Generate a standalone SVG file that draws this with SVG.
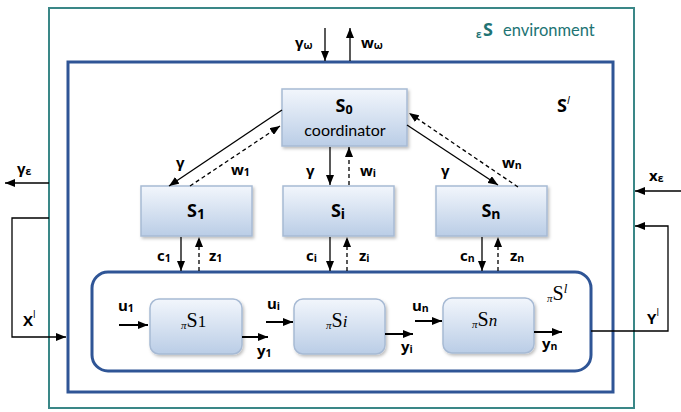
<svg xmlns="http://www.w3.org/2000/svg" width="681" height="412" viewBox="0 0 681 412">
<defs>
<linearGradient id="boxg" x1="0" y1="0" x2="0" y2="1">
<stop offset="0" stop-color="#F2F6FC"/>
<stop offset="1" stop-color="#BACDE6"/>
</linearGradient>
<filter id="sh" x="-10%" y="-10%" width="125%" height="130%">
<feDropShadow dx="1.5" dy="2" stdDeviation="1.5" flood-color="#000" flood-opacity="0.25"/>
</filter>
<marker id="ah" markerUnits="userSpaceOnUse" markerWidth="10" markerHeight="8" refX="10" refY="4" orient="auto">
<path d="M0,0 L10,4 L0,8 z" fill="#000"/>
</marker>
</defs>
<style>
.lbl{font-family:"Open Sans",Lato,"DejaVu Sans",sans-serif;font-weight:bold;font-size:15px;fill:#000}
.sub{font-size:10.5px}
.big{font-family:"Open Sans",Lato,"DejaVu Sans",sans-serif;font-weight:bold;font-size:18px;fill:#000}
.ser{font-family:"Liberation Serif","DejaVu Serif",serif;font-size:20px;fill:#000}
.box{fill:url(#boxg);stroke:#A7BAD4;stroke-width:1.5;filter:url(#sh)}
.ln{fill:none;stroke:#000;stroke-width:1.3}
.dl{fill:none;stroke:#000;stroke-width:1.3;stroke-dasharray:4,3}
.th{fill:none;stroke:#000;stroke-width:2}
</style>
<g id="environment">
<rect x="49" y="8" width="585" height="400" fill="none" stroke="#3A8787" stroke-width="2"/>
<text x="476" y="38" font-family="'Open Sans',Lato,sans-serif" font-weight="bold" font-size="10" fill="#217373">ε</text>
<text x="483" y="36" font-family="'Open Sans',Lato,sans-serif" font-weight="bold" font-size="18" fill="#217373">S</text>
<text x="503" y="36" font-family="Lato,'Open Sans',sans-serif" font-size="16.5" fill="#217373">environment</text>
</g>
<g id="Sl">
<rect x="68" y="62" width="545" height="330" fill="none" stroke="#2F5596" stroke-width="3"/>
<text x="557" y="112" class="big" font-size="17">S<tspan font-size="11" font-style="italic" font-weight="normal" dy="-8">l</tspan></text>
</g>
<g id="piSl">
<rect x="92" y="272" width="499" height="99" rx="16" fill="none" stroke="#2F5596" stroke-width="3"/>
<text x="547" y="300" class="ser"><tspan font-size="11" font-style="italic" dy="2">π</tspan><tspan dy="-2">S</tspan><tspan font-size="13" font-style="italic" dy="-7">l</tspan></text>
</g>
<g id="S0">
<rect class="box" x="282" y="89" width="125" height="57"/>
<text x="344" y="112" class="big" text-anchor="middle" font-size="16.5">S<tspan font-size="12.5" dy="1.5">0</tspan></text>
<text x="345" y="136" text-anchor="middle" font-family="Lato,'Open Sans',sans-serif" font-size="16" fill="#000">coordinator</text>
</g>
<g id="S1">
<rect class="box" x="141" y="186" width="111" height="50"/>
<text x="196" y="217" class="big" text-anchor="middle">S<tspan font-size="14" dy="2">1</tspan></text>
</g>
<g id="Si">
<rect class="box" x="283" y="186" width="111" height="50"/>
<text x="338" y="217" class="big" text-anchor="middle">S<tspan font-size="14" dy="2">i</tspan></text>
</g>
<g id="Sn">
<rect class="box" x="436" y="186" width="111" height="50"/>
<text x="491" y="217" class="big" text-anchor="middle">S<tspan font-size="14" dy="2">n</tspan></text>
</g>
<g id="piS1">
<rect class="box" x="150" y="299" width="92" height="55" rx="9"/>
<text x="181" y="327" class="ser"><tspan font-size="11" font-style="italic" dy="2">π</tspan><tspan dy="-2">S</tspan><tspan font-size="17">1</tspan></text>
</g>
<g id="piSi">
<rect class="box" x="294" y="299" width="91" height="55" rx="9"/>
<text x="326" y="327" class="ser"><tspan font-size="11" font-style="italic" dy="2">π</tspan><tspan dy="-2">S</tspan><tspan font-size="17" font-style="italic">i</tspan></text>
</g>
<g id="piSn">
<rect class="box" x="443" y="298" width="91" height="55" rx="9"/>
<text x="472" y="326" class="ser"><tspan font-size="11" font-style="italic" dy="2">π</tspan><tspan dy="-2">S</tspan><tspan font-size="17" font-style="italic">n</tspan></text>
</g>
<g id="connectors">
<line class="ln" x1="325" y1="28" x2="325" y2="61" marker-end="url(#ah)"/>
<line class="ln" x1="350" y1="61" x2="350" y2="28" marker-end="url(#ah)"/>
<line class="ln" x1="282" y1="110" x2="169" y2="186" marker-end="url(#ah)"/>
<line class="dl" x1="190" y1="186" x2="280" y2="126" marker-end="url(#ah)"/>
<line class="ln" x1="330" y1="147" x2="330" y2="185" marker-end="url(#ah)"/>
<line class="dl" x1="349" y1="185" x2="349" y2="147" marker-end="url(#ah)"/>
<line class="ln" x1="407" y1="125" x2="498" y2="185" marker-end="url(#ah)"/>
<line class="dl" x1="518" y1="187" x2="409" y2="113" marker-end="url(#ah)"/>
<line class="ln" x1="181" y1="237" x2="181" y2="271" marker-end="url(#ah)"/>
<line class="dl" x1="199" y1="271" x2="199" y2="237" marker-end="url(#ah)"/>
<line class="ln" x1="330" y1="237" x2="330" y2="271" marker-end="url(#ah)"/>
<line class="dl" x1="347" y1="271" x2="347" y2="237" marker-end="url(#ah)"/>
<line class="ln" x1="482" y1="237" x2="482" y2="271" marker-end="url(#ah)"/>
<line class="dl" x1="498" y1="271" x2="498" y2="237" marker-end="url(#ah)"/>
<line class="ln" x1="49" y1="183" x2="5" y2="183" marker-end="url(#ah)"/>
<line class="ln" x1="681" y1="191" x2="635" y2="191" marker-end="url(#ah)"/>
<polyline class="ln" points="49,218 12,218 12,337 66,337" marker-end="url(#ah)"/>
<polyline class="ln" points="591,331 668,331 668,226 635,226" marker-end="url(#ah)"/>
<line class="th" x1="119" y1="325" x2="148" y2="325" marker-end="url(#ah)"/>
<line class="th" x1="242" y1="337" x2="268" y2="337" marker-end="url(#ah)"/>
<line class="th" x1="266" y1="322" x2="293" y2="322" marker-end="url(#ah)"/>
<line class="th" x1="385" y1="334" x2="413" y2="334" marker-end="url(#ah)"/>
<line class="th" x1="415" y1="321" x2="442" y2="321" marker-end="url(#ah)"/>
<line class="th" x1="534" y1="332" x2="562" y2="332" marker-end="url(#ah)"/>
</g>
<g id="labels">
<text x="295" y="48" class="lbl" font-size="16">γ<tspan class="sub" dy="1">ω</tspan></text>
<text x="361" y="48" class="lbl" font-size="16">w<tspan class="sub" dy="1">ω</tspan></text>
<text x="176" y="168" class="lbl" font-size="16">γ</text>
<text x="231" y="175" class="lbl">w<tspan class="sub" dy="1">1</tspan></text>
<text x="306" y="176" class="lbl" font-size="16">γ</text>
<text x="360" y="176" class="lbl">w<tspan class="sub" dy="1">i</tspan></text>
<text x="441" y="176" class="lbl" font-size="16">γ</text>
<text x="502" y="168" class="lbl">w<tspan class="sub" dy="1">n</tspan></text>
<text x="17" y="174" class="lbl" font-size="16">γ<tspan class="sub" dy="1">ε</tspan></text>
<text x="649" y="181" class="lbl">x<tspan class="sub" dy="1">ε</tspan></text>
<text x="157" y="261" class="lbl">c<tspan class="sub" dy="1">1</tspan></text>
<text x="209" y="261" class="lbl">z<tspan class="sub" dy="1">1</tspan></text>
<text x="306" y="261" class="lbl">c<tspan class="sub" dy="1">i</tspan></text>
<text x="359" y="261" class="lbl">z<tspan class="sub" dy="1">i</tspan></text>
<text x="460" y="261" class="lbl">c<tspan class="sub" dy="1">n</tspan></text>
<text x="510" y="261" class="lbl">z<tspan class="sub" dy="1">n</tspan></text>
<text x="23" y="326" class="lbl" font-size="17">X<tspan font-size="10" font-weight="normal" dy="-8">l</tspan></text>
<text x="647" y="324" class="lbl" font-size="17">Y<tspan font-size="10" font-weight="normal" dy="-8">l</tspan></text>
<text x="118" y="311" class="lbl">u<tspan class="sub" dy="1">1</tspan></text>
<text x="257" y="356" class="lbl">y<tspan class="sub" dy="1">1</tspan></text>
<text x="267" y="309" class="lbl">u<tspan class="sub" dy="1">i</tspan></text>
<text x="401" y="352" class="lbl">y<tspan class="sub" dy="1">i</tspan></text>
<text x="412" y="311" class="lbl">u<tspan class="sub" dy="1">n</tspan></text>
<text x="542" y="349" class="lbl">y<tspan class="sub" dy="1">n</tspan></text>
</g>
</svg>
